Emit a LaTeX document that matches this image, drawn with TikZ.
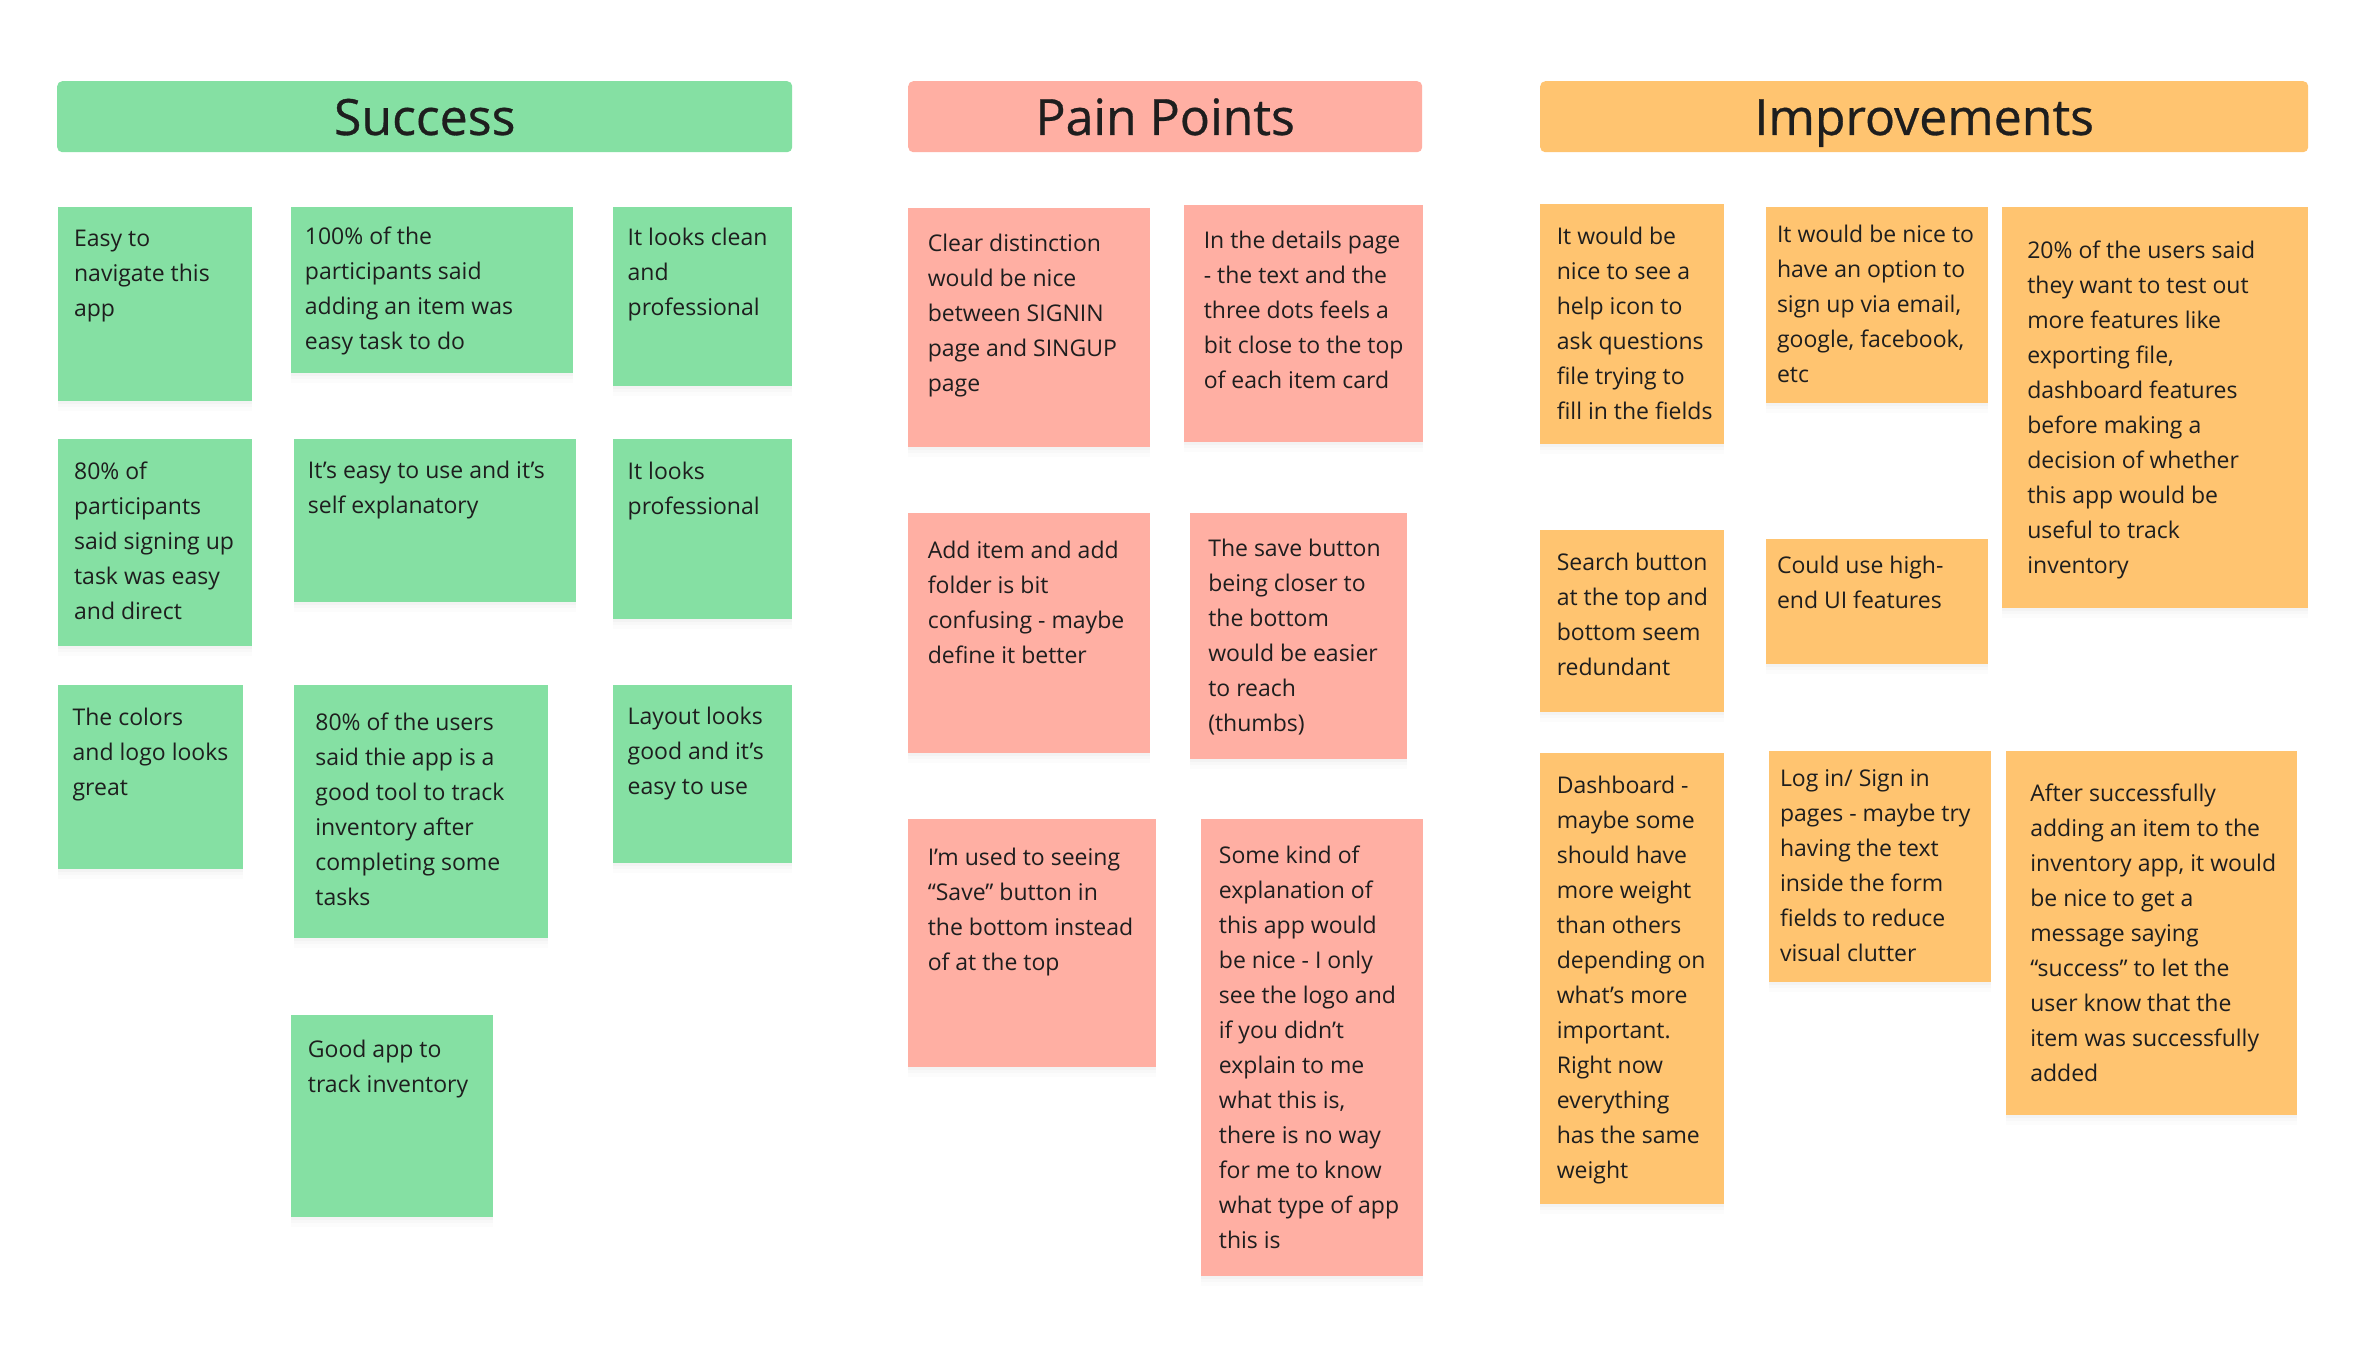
\documentclass[tikz,border=0pt]{standalone}
\usepackage{fontspec}
\setmainfont{Open Sans}
\newfontfamily\headfont[FakeBold=0.6]{Open Sans}
\usetikzlibrary{shadows}
\definecolor{notegreen}{HTML}{85E0A3}
\definecolor{notered}{HTML}{FFAFA3}
\definecolor{noteorange}{HTML}{FFC470}
\definecolor{ink}{HTML}{1E1E1E}
\begin{document}
\begin{tikzpicture}[x=1pt,y=-1pt,every node/.style={text=ink},
  head/.style={anchor=north west,inner sep=0pt,rounded corners=5pt,text height=36.5,text depth=0,font=\headfont\fontsize{50}{60}\selectfont},
  note/.style={anchor=north west,inner sep=0pt,
    drop shadow={shadow xshift=0pt,shadow yshift=-10pt,opacity=.025},
    drop shadow={shadow xshift=0pt,shadow yshift=-6pt,opacity=.03},
    drop shadow={shadow xshift=0pt,shadow yshift=-3pt,opacity=.035}},
  txt/.style={anchor=north west,inner sep=0pt,align=left,font=\fontsize{23}{35}\selectfont}]
  \fill[white] (0,0) rectangle (2365,1357);
  \useasboundingbox (0,0) rectangle (2365,1357);

  \node[head,fill=notegreen,minimum width=735,minimum height=71] (success) at (57,81) {Success};
  \node[head,fill=notered,minimum width=514,minimum height=71] (pain) at (908,81) {Pain Points};
  \node[head,fill=noteorange,minimum width=768,minimum height=71] (improve) at (1540,81) {Improvements};

  \node[note,fill=notegreen,minimum width=194.6,minimum height=194.6] (s1) at (57.3,206.6) {};
  \node[txt] (s1t) at ([shift={(16.6,23.2)}]s1.north west) {Easy to\\navigate this\\app};
  \node[note,fill=notegreen,minimum width=282,minimum height=166] (s2) at (291.1,206.6) {};
  \node[txt] (s2t) at ([shift={(13.6,20.2)}]s2.north west) {100\% of the\\participants said\\adding an item was\\easy task to do};
  \node[note,fill=notegreen,minimum width=179.5,minimum height=179.5] (s3) at (612.4,206.6) {};
  \node[txt] (s3t) at ([shift={(15.1,21.7)}]s3.north west) {It looks clean\\and\\professional};
  \node[note,fill=notegreen,minimum width=194.6,minimum height=206.6] (s4) at (57.3,438.9) {};
  \node[txt] (s4t) at ([shift={(16.6,23.2)}]s4.north west) {80\% of\\participants\\said signing up\\task was easy\\and direct};
  \node[note,fill=notegreen,minimum width=282,minimum height=163] (s5) at (294.1,438.9) {};
  \node[txt] (s5t) at ([shift={(13.6,21.7)}]s5.north west) {It’s easy to use and it’s\\self explanatory};
  \node[note,fill=notegreen,minimum width=179.5,minimum height=179.5] (s6) at (612.4,438.9) {};
  \node[txt] (s6t) at ([shift={(15.1,23.2)}]s6.north west) {It looks\\professional};
  \node[note,fill=notegreen,minimum width=185.5,minimum height=184] (s7) at (57.3,684.8) {};
  \node[txt] (s7t) at ([shift={(15.1,23.2)}]s7.north west) {The colors\\and logo looks\\great};
  \node[note,fill=notegreen,minimum width=253.4,minimum height=253.4] (s8) at (294.1,684.8) {};
  \node[txt] (s8t) at ([shift={(21.1,27.7)}]s8.north west) {80\% of the users\\said thie app is a\\good tool to track\\inventory after\\completing some\\tasks};
  \node[note,fill=notegreen,minimum width=179.5,minimum height=178] (s9) at (612.4,684.8) {};
  \node[txt] (s9t) at ([shift={(15.1,21.7)}]s9.north west) {Layout looks\\good and it’s\\easy to use};
  \node[note,fill=notegreen,minimum width=202,minimum height=202] (s10) at (291.1,1015.1) {};
  \node[txt] (s10t) at ([shift={(16.6,24.7)}]s10.north west) {Good app to\\track inventory};

  \node[note,fill=notered,minimum width=241.3,minimum height=238.4] (p1) at (908,208.1) {};
  \node[txt] (p1t) at ([shift={(19.6,26.2)}]p1.north west) {Clear distinction\\would be nice\\between SIGNIN\\page and SINGUP\\page};
  \node[note,fill=notered,minimum width=238.3,minimum height=236.8] (p2) at (1184,205.1) {};
  \node[txt] (p2t) at ([shift={(19.6,26.2)}]p2.north west) {In the details page\\- the text and the\\three dots feels a\\bit close to the top\\of each item card};
  \node[note,fill=notered,minimum width=241.3,minimum height=239.8] (p3) at (908,512.8) {};
  \node[txt] (p3t) at ([shift={(19.6,27.7)}]p3.north west) {Add item and add\\folder is bit\\confusing - maybe\\define it better};
  \node[note,fill=notered,minimum width=217.2,minimum height=245.9] (p4) at (1190,512.8) {};
  \node[txt] (p4t) at ([shift={(18.1,26.2)}]p4.north west) {The save button\\being closer to\\the bottom\\would be easier\\to reach\\(thumbs)};
  \node[note,fill=notered,minimum width=247.4,minimum height=247.4] (p5) at (908,819) {};
  \node[txt] (p5t) at ([shift={(19.6,29.2)}]p5.north west) {I’m used to seeing\\“Save” button in\\the bottom instead\\of at the top};
  \node[note,fill=notered,minimum width=221.7,minimum height=457] (p6) at (1200.6,819) {};
  \node[txt] (p6t) at ([shift={(18.1,26.2)}]p6.north west) {Some kind of\\explanation of\\this app would\\be nice - I only\\see the logo and\\if you didn’t\\explain to me\\what this is,\\there is no way\\for me to know\\what type of app\\this is};

  \node[note,fill=noteorange,minimum width=184,minimum height=239.8] (i1) at (1540,203.6) {};
  \node[txt] (i1t) at ([shift={(16.6,23.2)}]i1.north west) {It would be\\nice to see a\\help icon to\\ask questions\\file trying to\\fill in the fields};
  \node[note,fill=noteorange,minimum width=221.7,minimum height=196.1] (i2) at (1766.2,206.6) {};
  \node[txt] (i2t) at ([shift={(10.6,18.7)}]i2.north west) {It would be nice to\\have an option to\\sign up via email,\\google, facebook,\\etc};
  \node[note,fill=noteorange,minimum width=306.2,minimum height=401.2] (i3) at (2001.5,206.6) {};
  \node[txt] (i3t) at ([shift={(25.6,33.7)}]i3.north west) {20\% of the users said\\they want to test out\\more features like\\exporting file,\\dashboard features\\before making a\\decision of whether\\this app would be\\useful to track\\inventory};
  \node[note,fill=noteorange,minimum width=184,minimum height=182.5] (i4) at (1540,529.4) {};
  \node[txt] (i4t) at ([shift={(16.6,23.2)}]i4.north west) {Search button\\at the top and\\bottom seem\\redundant};
  \node[note,fill=noteorange,minimum width=221.7,minimum height=125.2] (i5) at (1766.2,538.5) {};
  \node[txt] (i5t) at ([shift={(10.6,17.2)}]i5.north west) {Could use high-\\end UI features};
  \node[note,fill=noteorange,minimum width=184,minimum height=451] (i6) at (1540,752.6) {};
  \node[txt] (i6t) at ([shift={(16.6,23.2)}]i6.north west) {Dashboard -\\maybe some\\should have\\more weight\\than others\\depending on\\what’s more\\important.\\Right now\\everything\\has the same\\weight};
  \node[note,fill=noteorange,minimum width=221.7,minimum height=230.8] (i7) at (1769.2,751.1) {};
  \node[txt] (i7t) at ([shift={(10.6,18.7)}]i7.north west) {Log in/ Sign in\\pages - maybe try\\having the text\\inside the form\\fields to reduce\\visual clutter};
  \node[note,fill=noteorange,minimum width=291.1,minimum height=363.5] (i8) at (2006,751.1) {};
  \node[txt] (i8t) at ([shift={(24.1,32.2)}]i8.north west) {After successfully\\adding an item to the\\inventory app, it would\\be nice to get a\\message saying\\“success” to let the\\user know that the\\item was successfully\\added};
\end{tikzpicture}
\end{document}
